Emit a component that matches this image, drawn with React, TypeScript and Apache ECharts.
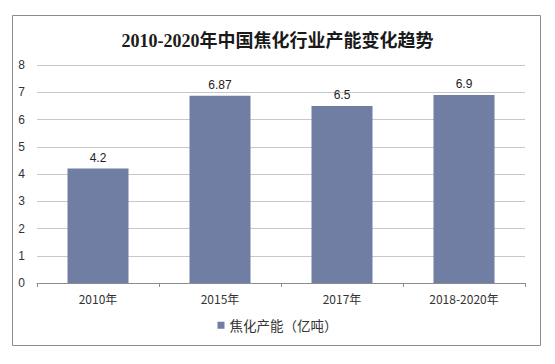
import React, { useEffect, useRef } from "react";
import * as echarts from "echarts";

const categories = ["2010年", "2015年", "2017年", "2018-2020年"];
const values = [4.2, 6.87, 6.5, 6.9];
const seriesName = "焦化产能（亿吨）";
const title = "2010-2020年中国焦化行业产能变化趋势";

export default function App() {
  const ref = useRef<HTMLDivElement>(null);
  useEffect(() => {
    const chart = echarts.init(ref.current!, null, { renderer: "svg" });
    chart.setOption({
      animation: false,
      backgroundColor: "#ffffff",
      title: {
        text: title,
        left: "center",
        top: 27,
        textStyle: {
          fontFamily: "'Liberation Serif', 'Noto Sans CJK SC', serif",
          fontWeight: "bold",
          fontSize: 18,
          color: "#1a1a1a",
        },
      },
      graphic: [
        {
          type: "rect",
          shape: { x: 12.5, y: 15.5, width: 528, height: 330 },
          style: { fill: "none", stroke: "#8c8c8c", lineWidth: 1 },
          silent: true,
        },
      ],
      legend: {
        bottom: 27,
        left: "center",
        icon: "rect",
        itemWidth: 7,
        itemHeight: 7,
        itemGap: 4,
        textStyle: { fontSize: 13.5, color: "#333", fontFamily: "'Noto Sans CJK SC', sans-serif" },
        data: [seriesName],
      },
      grid: { left: 37, right: 30, top: 65, bottom: 81, containLabel: false },
      xAxis: {
        type: "category",
        data: categories,
        axisLine: { lineStyle: { color: "#8c8c8c" } },
        axisTick: { show: true, lineStyle: { color: "#8c8c8c" }, length: 4 },
        axisLabel: { fontSize: 12, color: "#333", margin: 9, fontFamily: "'Noto Sans CJK SC', sans-serif" },
      },
      yAxis: {
        type: "value",
        min: 0,
        max: 8,
        interval: 1,
        axisLine: { show: false },
        axisTick: { show: false },
        axisLabel: { fontSize: 12, color: "#333", margin: 12, fontFamily: "'Liberation Sans', Arial, sans-serif" },
        splitLine: { lineStyle: { color: "#c8c8c8" } },
      },
      series: [
        {
          name: seriesName,
          type: "bar",
          data: values,
          barWidth: "50%",
          itemStyle: { color: "#717ea3" },
          label: {
            show: true,
            position: "top",
            fontSize: 12,
            color: "#222",
            fontFamily: "'Liberation Sans', Arial, sans-serif",
            distance: 5,
          },
        },
      ],
    });
    return () => chart.dispose();
  }, []);
  return (
    <div
      ref={ref}
      style={{ position: "fixed", left: 0, top: 0, width: 555, height: 364 }}
    />
  );
}
